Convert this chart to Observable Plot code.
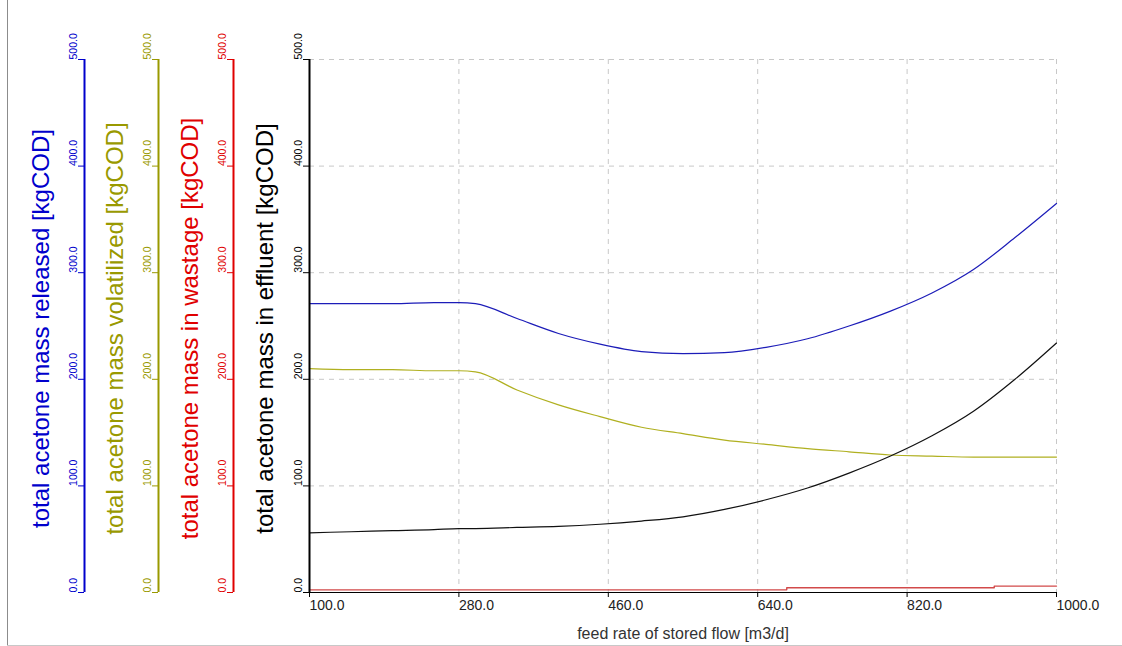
<!DOCTYPE html>
<html>
<head>
<meta charset="utf-8">
<script src="https://cdn.jsdelivr.net/npm/d3@7"></script>
<script src="https://cdn.jsdelivr.net/npm/@observablehq/plot@0.6"></script>
<style>
  html, body { margin: 0; padding: 0; background: #fff; }
  #chart { position: relative; width: 1122px; height: 646px; overflow: hidden; background: #fff; }
  #chart svg { position: absolute; left: 0; top: 0; }
  .edge-left { position: absolute; left: 7px; top: 0; width: 1px; height: 646px; background: #8c8c8c; }
  .edge-bottom { position: absolute; left: 7px; top: 645px; width: 1115px; height: 1px; background: #c8c8c8; }
</style>
</head>
<body>
<div id="chart"><div class="edge-left"></div><div class="edge-bottom"></div></div>
<script>
// Feed rate of stored flow [m3/d] and the acetone mass balances [kgCOD]
const feedRate    = [100, 150, 200, 250, 280, 300, 350, 400, 450, 500, 550, 600, 650, 700, 750, 800, 850, 900, 950, 1000];
const released    = [271, 271, 271, 272, 272, 271, 257, 243, 233, 226, 224, 225, 230, 238, 250, 264, 281, 303, 333, 365];
const volatilized = [210, 209, 209, 208, 208, 207, 190, 176, 165, 155, 149, 143, 139, 135, 132, 129, 128, 127, 127, 127];
const effluent    = [ 56,  57,  58,  59,  60,  60,  61,  62,  64,  67,  71,  78,  87,  98, 112, 128, 147, 170, 200, 234];

// Wastage changes in small steps
const wastageFeed = [100, 675, 925, 1000];
const wastage     = [2.5, 4.5, 6, 6];

// Tick values
const xTicks = [100, 280, 460, 640, 820, 1000];
const yTicks = [0, 100, 200, 300, 400, 500];

// Axis titles
const xTitle = "feed rate of stored flow [m3/d]";
const titleReleased = "total acetone mass released [kgCOD]";
const titleVolatilized = "total acetone mass volatilized [kgCOD]";
const titleWastage = "total acetone mass in wastage [kgCOD]";
const titleEffluent = "total acetone mass in effluent [kgCOD]";

const rows = feedRate.map((f, i) => ({feed: f, released: released[i], volatilized: volatilized[i], effluent: effluent[i]}));
const wastageRows = wastageFeed.map((f, i) => ({feed: f, wastage: wastage[i]}));

const BLUE = "#0000cc", OLIVE = "#999900", RED = "#e00000", BLACK = "#000000";
const fmt = d => d.toFixed(1);

// One stacked value axis: line, ticks, rotated labels and a title
function valueAxis(color, dx, title, titleDx) {
  return [
    Plot.ruleX([100], {stroke: color, strokeWidth: 2, dx}),
    Plot.axisY(yTicks, {
      anchor: "left", label: null, tickFormat: fmt, tickRotate: -90, textAnchor: "start",
      tickSize: 6, tickPadding: 2, fontSize: 10.5, dx, color, stroke: color,
      style: {letterSpacing: "0.8px"}
    }),
    Plot.text([title], {
      frameAnchor: "left", dx: titleDx, dy: 2.5, rotate: -90, fill: color,
      fontSize: 24, textAnchor: "middle", lineAnchor: "middle",
      style: {letterSpacing: "0.6px"}
    })
  ];
}

const chart = Plot.plot({
  width: 1122,
  height: 646,
  marginLeft: 309,
  marginRight: 66,
  marginTop: 59,
  marginBottom: 54,
  x: {domain: [100, 1000]},
  y: {domain: [0, 500]},
  style: {fontFamily: "'Liberation Sans', Arial, sans-serif", background: "transparent", overflow: "visible"},
  marks: [
    Plot.gridX(xTicks.slice(1), {stroke: "#c8c8c8", strokeOpacity: 1, strokeDasharray: "5,5"}),
    Plot.gridY(yTicks.slice(1), {stroke: "#c8c8c8", strokeOpacity: 1, strokeDasharray: "5,5"}),
    Plot.line(rows, {x: "feed", y: "released", stroke: "#1c1cb8", strokeWidth: 1.2, curve: "monotone-x"}),
    Plot.line(rows, {x: "feed", y: "volatilized", stroke: "#b0b020", strokeWidth: 1.2, curve: "monotone-x"}),
    Plot.line(rows, {x: "feed", y: "effluent", stroke: "#111", strokeWidth: 1.2, curve: "monotone-x"}),
    Plot.line(wastageRows, {x: "feed", y: "wastage", stroke: "#d24a4a", strokeWidth: 1.4, curve: "step-after"}),
    Plot.ruleY([0], {stroke: BLACK, strokeWidth: 1.2}),
    Plot.axisX(xTicks, {
      label: null, tickFormat: fmt, tickSize: 5, tickPadding: 3, textAnchor: "start",
      fontSize: 14, color: "#222", stroke: BLACK, style: {letterSpacing: "0.6px"}
    }),
    Plot.text([xTitle], {frameAnchor: "bottom", dy: 41, fontSize: 16, fill: "#333", lineAnchor: "middle", style: {letterSpacing: "0.6px"}}),
    ...valueAxis(BLUE, -225, titleReleased, -268),
    ...valueAxis(OLIVE, -151, titleVolatilized, -194),
    ...valueAxis(RED, -76, titleWastage, -119),
    ...valueAxis(BLACK, 0, titleEffluent, -44)
  ]
});

document.getElementById("chart").appendChild(chart);
</script>
</body>
</html>
